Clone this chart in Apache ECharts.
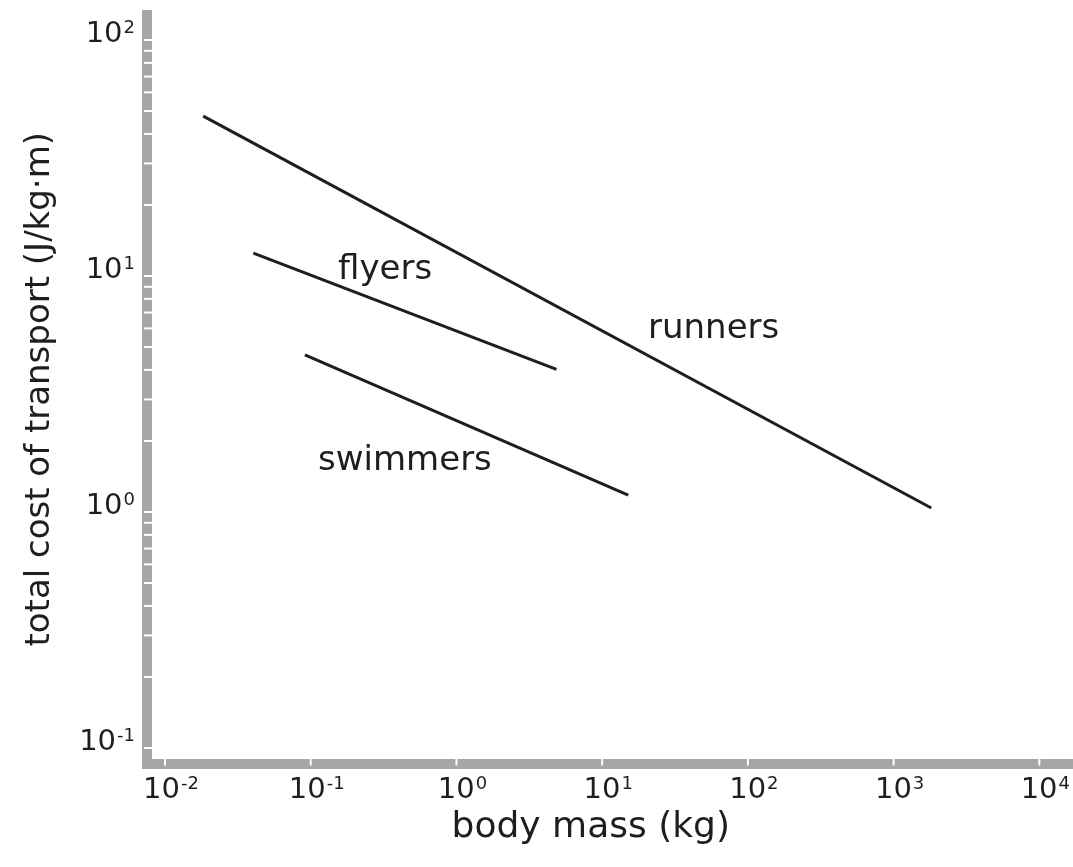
<!DOCTYPE html>
<html>
<head>
<meta charset="utf-8">
<title>Cost of transport vs body mass</title>
<script src="https://cdn.jsdelivr.net/npm/echarts@6/dist/echarts.min.js"></script>
<style>
  html, body { margin: 0; padding: 0; background: #ffffff; }
  #chart { width: 1073px; height: 867px; }
</style>
</head>
<body>
<div id="chart"></div>
<script>
// Fitted allometric lines: [start, end] in body mass (kg) and cost (J/kg·m)
const runnersMass = [0.0183, 1815];
const runnersCost = [47.6, 1.04];
const flyersMass = [0.0404, 4.86];
const flyersCost = [12.5, 4.02];
const swimmersMass = [0.0912, 15.1];
const swimmersCost = [4.63, 1.18];

const seriesNames = ['runners', 'flyers', 'swimmers'];

// Axis decades and the 2..9 subdivisions marked on the cost axis
const massDecades = [0.01, 0.1, 1, 10, 100, 1000, 10000];
const costDecades = [0.1, 1, 10, 100];
const minorSteps = [2, 3, 4, 5, 6, 7, 8, 9];

// Visible axis extent (in log10 units)
const massLogRange = [-2.1235, 4.228];
const costLogRange = [-1.0657, 2.106];

const FONT = '"DejaVu Sans", "Liberation Sans", Arial, sans-serif';
const INK = '#1e1e1e';
const BAR = '#a6a6a6';

const pairs = (xs, ys) => xs.map((x, i) => [x, ys[i]]);

const costTicks = [];
costDecades.forEach((d, i) => {
  costTicks.push(d);
  if (i < costDecades.length - 1) minorSteps.forEach(m => costTicks.push(+(d * m).toPrecision(3)));
});

const isDecade = v => Math.abs(Math.log10(v) - Math.round(Math.log10(v))) < 1e-6;
const powerLabel = v => isDecade(v) ? '{base|10}{sup|' + Math.round(Math.log10(v)) + '}' : '';

const richSup = {
  base: { fontSize: 29, fontFamily: FONT, color: INK },
  sup: { fontSize: 18, fontFamily: FONT, color: INK, verticalAlign: 'top', padding: [0, 0, 12, 1] }
};

const xMin = Math.pow(10, massLogRange[0]);
const xMax = Math.pow(10, massLogRange[1]);
const yMin = Math.pow(10, costLogRange[0]);
const yMax = Math.pow(10, costLogRange[1]);

const chart = echarts.init(document.getElementById('chart'), null, { renderer: 'canvas' });

const lineSeries = [
  [runnersMass, runnersCost],
  [flyersMass, flyersCost],
  [swimmersMass, swimmersCost]
].map(([xs, ys], i) => ({
  name: seriesNames[i],
  type: 'line',
  data: pairs(xs, ys),
  symbol: 'none',
  silent: true,
  z: 3,
  lineStyle: { color: INK, width: 3 }
}));

// White notches cut into the grey axis bars
const yTickSeries = {
  type: 'custom',
  silent: true,
  z: 5,
  data: costTicks.map(v => [xMin, v]),
  renderItem: (params, api) => {
    const p = api.coord([xMin, api.value(1)]);
    return { type: 'rect', shape: { x: p[0] - 3, y: p[1] - 1, width: 9, height: 2 }, style: { fill: '#ffffff' } };
  }
};
const xTickSeries = {
  type: 'custom',
  silent: true,
  z: 5,
  data: massDecades.map(v => [v, yMin]),
  renderItem: (params, api) => {
    const p = api.coord([api.value(0), yMin]);
    return { type: 'rect', shape: { x: p[0] - 1, y: p[1] - 6, width: 2, height: 8 }, style: { fill: '#ffffff' } };
  }
};

const labelFont = '34px ' + FONT;

chart.setOption({
  backgroundColor: '#ffffff',
  animation: false,
  grid: { left: 147, right: 0, top: 15, bottom: 103.5, containLabel: false },
  xAxis: {
    type: 'log',
    logBase: 10,
    min: xMin,
    max: xMax,
    name: 'body mass (kg)',
    nameLocation: 'middle',
    nameGap: 44,
    nameTextStyle: { fontSize: 36, fontFamily: FONT, color: INK, padding: [0, 38, 0, 0] },
    axisLine: { show: true, lineStyle: { color: BAR, width: 10, cap: 'square' } },
    axisTick: { show: false },
    minorTick: { show: false },
    splitLine: { show: false },
    axisLabel: {
      showMinLabel: false,
      showMaxLabel: false,
      margin: 12,
      padding: [0, 0, 0, 12],
      formatter: powerLabel,
      rich: richSup,
      fontSize: 29,
      fontFamily: FONT,
      color: INK
    }
  },
  yAxis: {
    type: 'log',
    logBase: 10,
    min: yMin,
    max: yMax,
    name: 'total cost of transport (J/kg·m)',
    nameLocation: 'middle',
    nameGap: 90,
    nameTextStyle: { fontSize: 34, fontFamily: FONT, color: INK },
    axisLine: { show: true, lineStyle: { color: BAR, width: 10, cap: 'square' } },
    axisTick: { show: false },
    minorTick: { show: false },
    splitLine: { show: false },
    axisLabel: {
      showMinLabel: false,
      showMaxLabel: false,
      margin: 12,
      padding: [0, 0, 12, 0],
      formatter: powerLabel,
      rich: richSup,
      fontSize: 29,
      fontFamily: FONT,
      color: INK
    }
  },
  series: lineSeries.concat([yTickSeries, xTickSeries]),
  graphic: [
    { type: 'text', left: 338, top: 253, style: { text: 'flyers', font: labelFont, fill: INK } },
    { type: 'text', left: 648, top: 312, style: { text: 'runners', font: labelFont, fill: INK } },
    { type: 'text', left: 318, top: 444, style: { text: 'swimmers', font: labelFont, fill: INK } }
  ]
});
</script>
</body>
</html>
